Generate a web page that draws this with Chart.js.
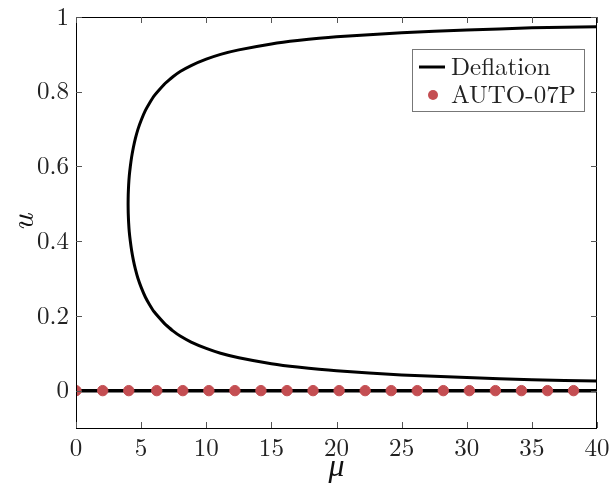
<!DOCTYPE html>
<html>
<head>
<meta charset="utf-8">
<script src="https://cdn.jsdelivr.net/npm/chart.js@4/dist/chart.umd.min.js"></script>
<style>
  html, body { margin: 0; padding: 0; background: #fff; }
  #wrap { width: 611px; height: 487px; }
</style>
</head>
<body>
<div id="wrap"><canvas id="chart"></canvas></div>
<script>
// fold curve (mu, u), lower branch -> turning point -> upper branch
const curveMu = [40, 35, 30, 25, 20, 17, 15, 12.5, 11.1, 10, 8.84, 8, 7.44, 7, 6.78, 6, 5.65, 5.33, 5.02, 4.76, 4.56, 4.4, 4.27, 4.17, 4.09, 4.04, 4.01, 4,
                 4.01, 4.04, 4.09, 4.17, 4.27, 4.4, 4.56, 4.76, 5.02, 5.33, 5.65, 6, 6.78, 7, 7.44, 8, 8.84, 10, 11.1, 12.5, 15, 17, 20, 25, 30, 35, 40];
const curveU = [0.026, 0.029, 0.035, 0.042, 0.053, 0.063, 0.072, 0.088, 0.1, 0.113, 0.13, 0.146, 0.16, 0.173, 0.18, 0.211, 0.23, 0.25, 0.275, 0.3, 0.325, 0.35, 0.375, 0.4, 0.425, 0.45, 0.475, 0.5,
                0.525, 0.55, 0.575, 0.6, 0.625, 0.65, 0.675, 0.7, 0.725, 0.75, 0.77, 0.789, 0.82, 0.827, 0.84, 0.854, 0.87, 0.887, 0.9, 0.912, 0.928, 0.937, 0.947, 0.958, 0.965, 0.971, 0.974];

// trivial branch
const trivialMu = [0, 40];
const trivialU = [0, 0];

// AUTO-07P points
const autoMu = [0, 2.05, 4.05, 6.2, 8.2, 10.2, 12.2, 14.2, 16.2, 18.2, 20.2, 22.2, 24.2, 26.2, 28.2, 30.2, 32.2, 34.2, 36.2, 38.2];
const autoU = autoMu.map(() => 0);

const xTicks = [0, 5, 10, 15, 20, 25, 30, 35, 40];
const yTicks = [0, 0.2, 0.4, 0.6, 0.8, 1];

const legendLabels = ['Deflation', 'AUTO-07P'];
const dotColor = '#c44e52';
const serif = "'Latin Modern Roman', 'Liberation Serif', serif";

const toXY = (xs, ys) => xs.map((x, i) => ({ x: x, y: ys[i] }));

// inward ticks on all 4 sides + legend box
const framePlugin = {
    id: 'frame',
    afterDraw(chart) {
        const ctx = chart.ctx;
        const a = chart.chartArea;
        const xs = chart.scales.x, ys = chart.scales.y;
        const len = 6;
        ctx.save();
        ctx.strokeStyle = '#000';
        ctx.lineWidth = 1;
        ctx.strokeRect(a.left + 0.5, a.top + 0.5, a.right - a.left - 1, a.bottom - a.top);
        ctx.strokeStyle = '#555';
        ctx.beginPath();
        xTicks.forEach(v => {
            const px = Math.round(xs.getPixelForValue(v)) + 0.5;
            ctx.moveTo(px, a.bottom); ctx.lineTo(px, a.bottom - len);
            ctx.moveTo(px, a.top); ctx.lineTo(px, a.top + len);
        });
        yTicks.forEach(v => {
            const py = Math.round(ys.getPixelForValue(v)) + 0.5;
            ctx.moveTo(a.left, py); ctx.lineTo(a.left + len, py);
            ctx.moveTo(a.right, py); ctx.lineTo(a.right - len, py);
        });
        ctx.stroke();

        // legend
        const bx = a.right - 185, by = a.top + 32, bw = 172, bh = 62;
        ctx.fillStyle = '#fff';
        ctx.fillRect(bx, by, bw, bh);
        ctx.strokeStyle = '#777';
        ctx.strokeRect(bx + 0.5, by + 0.5, bw, bh);
        ctx.strokeStyle = '#000';
        ctx.lineWidth = 3;
        ctx.beginPath();
        ctx.moveTo(bx + 7, by + 18); ctx.lineTo(bx + 33, by + 18);
        ctx.stroke();
        ctx.fillStyle = dotColor;
        ctx.beginPath();
        ctx.arc(bx + 21, by + 46, 5, 0, Math.PI * 2);
        ctx.fill();
        ctx.fillStyle = '#222';
        ctx.font = "25px " + serif;
        ctx.textBaseline = 'middle';
        ctx.fillText(legendLabels[0], bx + 39, by + 18);
        ctx.fillText(legendLabels[1], bx + 39, by + 46);
        ctx.restore();
    }
};

new Chart(document.getElementById('chart'), {
    type: 'scatter',
    data: {
        datasets: [
            {
                label: legendLabels[1],
                data: toXY(autoMu, autoU),
                backgroundColor: dotColor,
                borderColor: dotColor,
                pointRadius: 5.2,
                showLine: false,
                order: 0
            },
            {
                label: legendLabels[0],
                data: toXY(curveMu, curveU),
                borderColor: '#000',
                borderWidth: 3,
                pointRadius: 0,
                showLine: true,
                tension: 0.2,
                order: 1
            },
            {
                label: 'trivial',
                data: toXY(trivialMu, trivialU),
                borderColor: '#000',
                borderWidth: 3.5,
                pointRadius: 0,
                showLine: true,
                order: 2
            }
        ]
    },
    options: {
        responsive: true,
        maintainAspectRatio: false,
        animation: false,
        layout: { padding: { left: 0, right: 14, top: 17, bottom: 0 } },
        plugins: {
            legend: { display: false },
            tooltip: { enabled: false }
        },
        scales: {
            x: {
                type: 'linear',
                min: 0, max: 40,
                afterBuildTicks: s => { s.ticks = xTicks.map(v => ({ value: v })); },
                afterFit: s => { s.height = 59; s.paddingLeft = 0; s.paddingRight = 0; },
                grid: { display: false, drawTicks: false },
                border: { display: false },
                ticks: {
                    color: '#222',
                    padding: 5,
                    maxRotation: 0,
                    font: { family: serif, size: 25 }
                },
                title: {
                    display: true,
                    text: 'μ',
                    color: '#111',
                    padding: { top: 0, bottom: 2 },
                    font: { family: serif, size: 32, style: 'italic' }
                }
            },
            y: {
                type: 'linear',
                min: -0.1, max: 1,
                afterBuildTicks: s => { s.ticks = yTicks.map(v => ({ value: v })); },
                afterFit: s => { s.width = 76; s.paddingTop = 0; s.paddingBottom = 0; },
                grid: { display: false, drawTicks: false },
                border: { display: false },
                ticks: {
                    color: '#222',
                    padding: 7,
                    font: { family: serif, size: 25 },
                    callback: v => String(v)
                },
                title: {
                    display: true,
                    text: 'u',
                    color: '#111',
                    padding: { top: 4, bottom: 0 },
                    font: { family: serif, size: 32, style: 'italic' }
                }
            }
        }
    },
    plugins: [framePlugin]
});
</script>
</body>
</html>
